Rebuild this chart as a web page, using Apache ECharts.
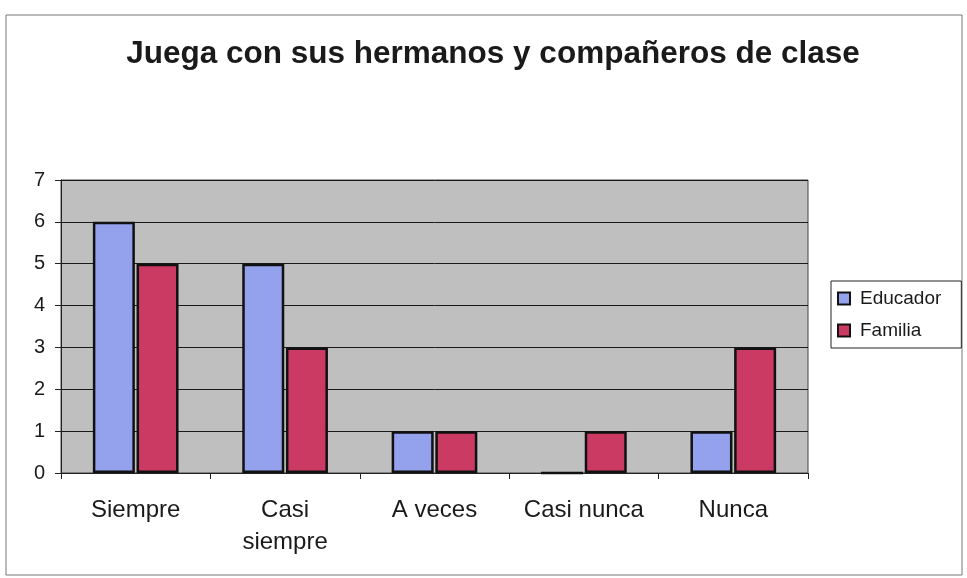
<!DOCTYPE html>
<html>
<head>
<meta charset="utf-8">
<script src="https://cdn.jsdelivr.net/npm/echarts@6/dist/echarts.min.js"></script>
<style>
  html, body { margin: 0; padding: 0; background: #fff; }
  #chart { width: 967px; height: 578px; }
</style>
</head>
<body>
<div id="chart"></div>
<script>
// datos del gráfico
const categories = ['Siempre', 'Casi\nsiempre', 'A veces', 'Casi nunca', 'Nunca']
const educador = [6, 5, 1, 0, 1]
const familia = [5, 3, 1, 1, 3]
const seriesNames = ['Educador', 'Familia']

const chart = echarts.init(document.getElementById('chart'))

const option = {
  backgroundColor: '#fff',
  animation: false,
  title: {
    text: 'Juega con sus hermanos y compañeros de clase',
    left: 488,
    top: 33,
    textAlign: 'center',
    textStyle: {
      fontFamily: 'Liberation Sans, Arial',
      fontWeight: 'bold',
      fontSize: 31.5,
      color: '#1a1a1a'
    }
  },
  graphic: [
    {
      type: 'rect',
      shape: { x: 6, y: 15, width: 956, height: 560 },
      style: { fill: 'none', stroke: '#777', lineWidth: 1 },
      silent: true
    }
  ],
  legend: {
    orient: 'vertical',
    left: 831,
    top: 281,
    padding: [8, 20, 8, 6],
    itemGap: 13,
    itemWidth: 12,
    itemHeight: 12,
    icon: 'rect',
    borderColor: '#222',
    borderWidth: 1,
    backgroundColor: '#fff',
    textStyle: {
      fontFamily: 'Liberation Sans, Arial',
      fontSize: 19,
      color: '#1a1a1a',
      padding: [0, 0, 0, 5]
    },
    data: seriesNames
  },
  grid: {
    left: 61,
    right: 159,
    top: 180,
    bottom: 105,
    show: true,
    backgroundColor: '#bfbfbf',
    borderColor: '#444',
    borderWidth: 1
  },
  xAxis: {
    type: 'category',
    data: categories,
    axisLine: { lineStyle: { color: '#222', width: 1 } },
    axisTick: { show: true, length: 6, lineStyle: { color: '#222' } },
    axisLabel: {
      interval: 0,
      hideOverlap: false,
      fontFamily: 'Liberation Sans, Arial',
      fontSize: 24,
      color: '#1a1a1a',
      margin: 21,
      lineHeight: 32
    }
  },
  yAxis: {
    type: 'value',
    min: 0,
    max: 7,
    interval: 1,
    axisLine: { show: true, lineStyle: { color: '#222', width: 1 } },
    axisTick: { show: true, length: 6, lineStyle: { color: '#222' } },
    splitLine: { lineStyle: { color: '#1a1a1a', width: 1 } },
    axisLabel: {
      fontFamily: 'Liberation Sans, Arial',
      fontSize: 20,
      color: '#1a1a1a',
      margin: 16
    }
  },
  series: [
    {
      name: seriesNames[0],
      type: 'bar',
      barWidth: 42,
      barGap: '4%',
      itemStyle: { color: '#94a2ee', borderColor: '#111', borderWidth: 2.5 },
      data: educador
    },
    {
      name: seriesNames[1],
      type: 'bar',
      barWidth: 42,
      barGap: '4%',
      itemStyle: { color: '#cb3a63', borderColor: '#111', borderWidth: 2.5 },
      data: familia
    }
  ]
}

chart.setOption(option)
</script>
</body>
</html>
